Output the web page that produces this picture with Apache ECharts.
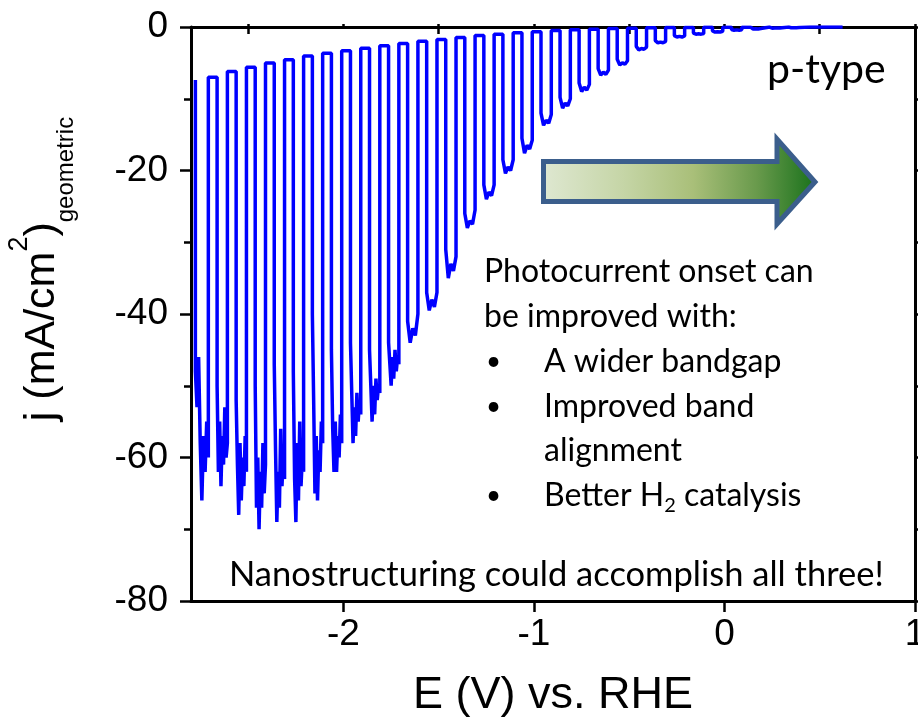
<!DOCTYPE html>
<html>
<head>
<meta charset="utf-8">
<script src="https://cdn.jsdelivr.net/npm/echarts@6/dist/echarts.min.js"></script>
<style>
  html, body { margin: 0; padding: 0; background: #ffffff; }
  #chart { width: 918px; height: 724px; }
</style>
</head>
<body>
<div id="chart"></div>
<script>
// Chopped-light linear sweep voltammetry of a p-type photocathode.
// Potential (V vs. RHE) where the light is switched on / off in each chopping cycle.
const potentialOn = [-2.777, -2.663, -2.563, -2.463, -2.363, -2.263, -2.163, -2.063,
  -1.963, -1.863, -1.763, -1.663, -1.563, -1.463, -1.363, -1.263, -1.163, -1.063,
  -0.963, -0.863, -0.763, -0.663, -0.563, -0.463, -0.363, -0.263, -0.163, -0.063,
  0.037, 0.137, 0.237, 0.337];
const potentialOff = [-2.709, -2.609, -2.509, -2.409, -2.309, -2.209, -2.109, -2.009,
  -1.909, -1.809, -1.709, -1.609, -1.509, -1.409, -1.309, -1.209, -1.109, -1.009,
  -0.909, -0.809, -0.709, -0.609, -0.509, -0.409, -0.309, -0.209, -0.109, -0.009,
  0.091, 0.191, 0.291, 0.391];

// Current density (mA/cm2) sampled across each illuminated interval
const lightJ = [
  [-48, -53, -46, -58, -66, -57, -62, -55, -60],
  [-50, -62, -55, -64, -57, -61, -53, -60, -58],
  [-52, -61, -68, -58, -66, -60, -64, -57, -62],
  [-50, -67, -60, -70, -62, -67, -58, -65, -61],
  [-47, -59, -69, -62, -67, -56, -64, -60, -63],
  [-48, -63, -69, -58, -66, -55, -64, -60, -62],
  [-40, -52, -65, -57, -66, -59, -62, -55, -58],
  [-45, -56, -62, -55, -62, -57, -60, -54, -58],
  [-44, -51, -58, -53, -57, -51, -55, -52, -54],
  [-45, -50, -55, -50, -54, -49, -52, -50, -51],
  [-44, -47, -50, -46, -49, -45, -48, -46, -47],
  [-41, -44, -42, -43, -40],
  [-37, -39.5, -38, -39, -37],
  [-31, -35, -33, -34, -32],
  [-26, -28, -27, -27.5, -25.5],
  [-22, -24, -23, -23.5, -22],
  [-18.5, -20.4, -19.5, -20, -18.5],
  [-15.5, -17.6, -16.5, -17, -15.8],
  [-12, -13.7, -13, -13.4, -12.2],
  [-9.8, -11.3, -10.6, -11, -10],
  [-7.8, -9, -8.4, -8.8, -8],
  [-5.8, -6.7, -6.3, -6.6, -6],
  [-4.5, -5.3, -5, -5.2, -4.7],
  [-2.7, -3.2, -3, -3.1, -2.8],
  [-1.9, -2.2, -2.1, -2.2, -2],
  [-1.2, -1.4, -1.3, -1.4, -1.25],
  [-0.85, -1, -0.95, -1, -0.9],
  [-0.55, -0.7, -0.65, -0.7, -0.6],
  [-0.35, -0.45, -0.4, -0.45, -0.4],
  [-0.2, -0.28, -0.25, -0.27, -0.22],
  [-0.12, -0.16, -0.14, -0.15, -0.13],
  [-0.08, -0.1, -0.09, -0.1, -0.08]
];

// Dark current following each illuminated interval
const darkJ = [-7.0, -6.2, -5.6, -5.0, -4.55, -4.05, -3.65, -3.3, -2.95, -2.6, -2.3,
  -2.0, -1.75, -1.45, -1.2, -1.0, -0.8, -0.65, -0.5, -0.4, -0.3, -0.22, -0.16, -0.12,
  -0.08, -0.06, -0.04, -0.03, -0.02, -0.01, -0.005, 0];
const startJ = -7.4;           // dark current at the start of the sweep
const tailV = [0.45, 0.62];    // end of the sweep, light chopping no longer visible
const tailJ = [-0.01, 0];

const xTicks = [-2, -1, 0, 1];
const xMinorTicks = [-2.5, -1.5, -0.5, 0.5];

// Build the trace: light-on samples, then the dark plateau up to the next light-on
const trace = [[potentialOn[0], startJ]];
for (let i = 0; i < potentialOn.length; i++) {
  const on = potentialOn[i], off = potentialOff[i], s = lightJ[i];
  s.forEach((j, k) => trace.push([on + (off - on) * k / (s.length - 1), j]));
  trace.push([off, darkJ[i]]);
  const next = i + 1 < potentialOn.length ? potentialOn[i + 1] : tailV[0];
  trace.push([next, darkJ[i]]);
}
tailV.forEach((v, k) => trace.push([v, tailJ[k]]));

const AXIS_FONT = '"Liberation Sans Narrow", "Arial Narrow", "Liberation Sans", Arial, sans-serif';
const TITLE_FONT = '"Liberation Sans", Arial, sans-serif';
const NOTE_FONT = 'Lato, "Open Sans", sans-serif';
const black = '#000000';
const frame = { show: true, onZero: false, lineStyle: { color: black, width: 3 } };
const tickStyle = { color: black, width: 2.5 };

const chart = echarts.init(document.getElementById('chart'), null, { renderer: 'canvas' });

const note = (text, x, y, size) => ({
  type: 'text', z: 10,
  style: { text, x, y, font: size + 'px ' + NOTE_FONT, fill: black, verticalAlign: 'middle' }
});

chart.setOption({
  animation: false,
  backgroundColor: '#ffffff',
  grid: { left: 191, right: 3, top: 27, bottom: 123, containLabel: false, outerBoundsMode: 'none' },
  xAxis: [
    {
      type: 'value', min: -2.8, max: 1, position: 'bottom',
      axisLine: frame,
      axisTick: { show: true, inside: false, length: 11, customValues: xTicks, lineStyle: tickStyle },
      axisLabel: { customValues: xTicks, fontSize: 37, fontFamily: AXIS_FONT, color: black, margin: 15 },
      splitLine: { show: false },
      name: 'E (V) vs. RHE', nameLocation: 'middle', nameGap: 72,
      nameTextStyle: { fontSize: 45, fontFamily: TITLE_FONT, color: black }
    },
    {
      type: 'value', min: -2.8, max: 1, position: 'top',
      axisLine: frame,
      axisTick: { show: true, inside: false, length: 3, customValues: xMinorTicks.concat(xTicks), lineStyle: tickStyle },
      axisLabel: { show: false }, splitLine: { show: false }
    },
    {
      type: 'value', min: -2.8, max: 1, position: 'bottom',
      axisLine: { show: false },
      axisTick: { show: true, inside: false, length: 7, customValues: xMinorTicks, lineStyle: tickStyle },
      axisLabel: { show: false }, splitLine: { show: false }
    }
  ],
  yAxis: [
    {
      type: 'value', min: -80, max: 0, interval: 20, position: 'left',
      axisLine: frame,
      axisTick: { show: true, inside: false, length: 11, lineStyle: tickStyle },
      minorTick: { show: true, splitNumber: 2, length: 7, lineStyle: tickStyle },
      axisLabel: { fontSize: 37, fontFamily: AXIS_FONT, color: black, margin: 23 },
      splitLine: { show: false }, minorSplitLine: { show: false },
      name: '{a|j (mA/cm}{s|2}{a|)}{b|geometric}',
      nameLocation: 'middle', nameRotate: 90, nameGap: 113,
      nameTextStyle: {
        padding: [0, 0, 0, 90],
        rich: {
          a: { fontSize: 43, fontFamily: TITLE_FONT, color: black, lineHeight: 72 },
          s: { fontSize: 27, fontFamily: TITLE_FONT, color: black, lineHeight: 26, verticalAlign: 'top' },
          b: { fontSize: 24, fontFamily: TITLE_FONT, color: black, lineHeight: 26, verticalAlign: 'bottom' }
        }
      }
    },
    {
      type: 'value', min: -80, max: 0, interval: 20, position: 'right',
      axisLine: frame,
      axisTick: { show: true, inside: false, length: 8, lineStyle: tickStyle },
      minorTick: { show: true, splitNumber: 2, length: 6, lineStyle: tickStyle },
      axisLabel: { show: false }, splitLine: { show: false }, minorSplitLine: { show: false }
    }
  ],
  series: [{
    type: 'line', xAxisIndex: 0, yAxisIndex: 0,
    data: trace, showSymbol: false, symbol: 'none', smooth: false,
    lineStyle: { color: '#0000ff', width: 3.5 },
    clip: true
  }],
  graphic: [
    {
      type: 'polygon', z: 10,
      shape: { points: [[543.5, 161.5], [777, 161.5], [777, 139], [815, 182], [777, 224], [777, 201.5], [543.5, 201.5]] },
      style: {
        fill: {
          type: 'linear', x: 0, y: 0, x2: 1, y2: 0,
          colorStops: [
            { offset: 0, color: '#dfe8d2' },
            { offset: 0.3, color: '#c5d5a6' },
            { offset: 0.55, color: '#a9bf79' },
            { offset: 0.78, color: '#699a4c' },
            { offset: 1, color: '#17701a' }
          ]
        },
        stroke: '#3b5e8c', lineWidth: 5, lineJoin: 'miter'
      }
    },
    note('p-type', 767, 70, 41),
    note('Photocurrent onset can', 484, 272, 32),
    note('be improved with:', 484, 317, 32),
    note('•', 486, 362, 26),
    note('A wider bandgap', 544, 362, 32),
    note('•', 486, 407, 26),
    note('Improved band', 544, 407, 32),
    note('alignment', 544, 451, 32),
    note('•', 486, 496, 26),
    {
      type: 'text', z: 10,
      style: {
        text: '{a|Better H}{s|2}{a| catalysis}', x: 544, y: 496, verticalAlign: 'middle',
        rich: {
          a: { fontSize: 32, fontFamily: NOTE_FONT, fill: black, lineHeight: 40 },
          s: { fontSize: 20, fontFamily: NOTE_FONT, fill: black, lineHeight: 20, verticalAlign: 'bottom' }
        }
      }
    },
    note('Nanostructuring could accomplish all three!', 229, 575, 34.5)
  ]
});
</script>
</body>
</html>
